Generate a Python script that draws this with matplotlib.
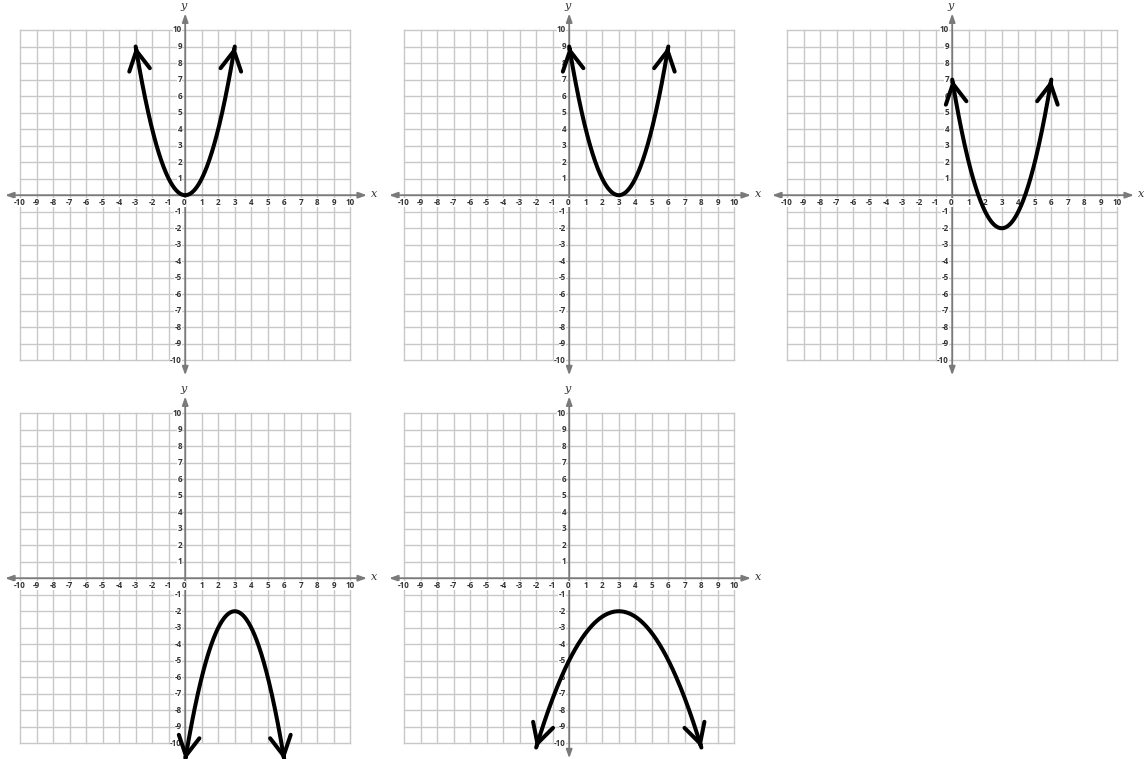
import numpy as np
import matplotlib.pyplot as plt

# 五条抛物线 y = a*(x-h)^2 + k，x 从 x_start 画到 x_end（两端带箭头）
a_vals = [1.0, 1.0, 1.0, -1.0, -0.33]
h_vals = [0, 3, 3, 3, 3]
k_vals = [0, 0, -2, -2, -2]
x_start = [-3, 0, 0, 0, -2]
x_end = [3, 6, 6, 6, 8]

ticks = list(range(-10, 11))
x_tick_labels = [str(t) for t in ticks]
y_tick_labels = [str(t) if t != 0 else '' for t in ticks]

# 每个坐标网格的位置（像素）：网格左边 x=-10 处，网格顶边 y=10 处
grid_left_px = [20, 404, 787, 20, 404]
grid_top_px = [30, 30, 30, 413, 413]

W, H = 1144, 759
s = 16.52  # 每单位像素
xlim = (-11.6, 11.9)
ylim = (-11.6, 11.9)

plt.rcParams['font.family'] = ['Open Sans', 'DejaVu Sans']
fig = plt.figure(figsize=(W / 100, H / 100), dpi=100)

grid_c = '#c8c8c8'
axis_c = '#7a7a7a'
txt_c = '#333333'

for i in range(5):
    L = grid_left_px[i] + (xlim[0] + 10) * s
    Wd = (xlim[1] - xlim[0]) * s
    T = grid_top_px[i] - (ylim[1] - 10) * s
    Hd = (ylim[1] - ylim[0]) * s
    ax = fig.add_axes([L / W, 1 - (T + Hd) / H, Wd / W, Hd / H])
    ax.set_xlim(*xlim)
    ax.set_ylim(*ylim)
    ax.axis('off')

    # 网格
    for t in ticks:
        ax.plot([t, t], [-10, 10], color=grid_c, lw=1.0, zorder=1)
        ax.plot([-10, 10], [t, t], color=grid_c, lw=1.0, zorder=1)

    # 坐标轴（两端箭头）
    ax.annotate('', xy=(11.0, 0), xytext=(-10.9, 0), annotation_clip=False,
                arrowprops=dict(arrowstyle='<|-|>,head_length=0.5,head_width=0.18',
                                color=axis_c, lw=1.3, shrinkA=0, shrinkB=0,
                                mutation_scale=10), zorder=3)
    ax.annotate('', xy=(0, 11.0), xytext=(0, -10.9), annotation_clip=False,
                arrowprops=dict(arrowstyle='<|-|>,head_length=0.5,head_width=0.18',
                                color=axis_c, lw=1.3, shrinkA=0, shrinkB=0,
                                mutation_scale=10), zorder=3)
    ax.text(11.45, 0.05, 'x', fontsize=8, style='italic', family='DejaVu Serif',
            color=txt_c, ha='center', va='center', clip_on=False)
    ax.text(-0.1, 11.45, 'y', fontsize=8, style='italic', family='DejaVu Serif',
            color=txt_c, ha='center', va='center', clip_on=False)

    # 刻度标签
    for t, lab in zip(ticks, x_tick_labels):
        ax.text(t - 0.1 if t == 0 else t, -0.45, lab, fontsize=5.8, fontweight='bold',
                color=txt_c, ha='center', va='center', zorder=4,
                bbox=dict(facecolor='white', edgecolor='none', pad=0.2))
    for t, lab in zip(ticks, y_tick_labels):
        if lab:
            ax.text(-0.2, t, lab, fontsize=5.8, fontweight='bold', color=txt_c,
                    ha='right', va='center', zorder=4,
                    bbox=dict(facecolor='white', edgecolor='none', pad=0.2))

    # 抛物线
    xs = np.linspace(x_start[i], x_end[i], 200)
    ys = a_vals[i] * (xs - h_vals[i]) ** 2 + k_vals[i]
    ax.plot(xs, ys, color='black', lw=2.9, solid_capstyle='round', zorder=5,
            clip_on=False)
    for j0, j1 in [(1, 0), (-2, -1)]:
        ax.annotate('', xy=(xs[j1], ys[j1]), xytext=(xs[j0], ys[j0]),
                    annotation_clip=False,
                    arrowprops=dict(arrowstyle='->,head_length=1.4,head_width=0.75',
                                    color='black', lw=2.9, shrinkA=0, shrinkB=0,
                                    mutation_scale=10), zorder=6)

fig.savefig('out.png', dpi=100, facecolor='white')
